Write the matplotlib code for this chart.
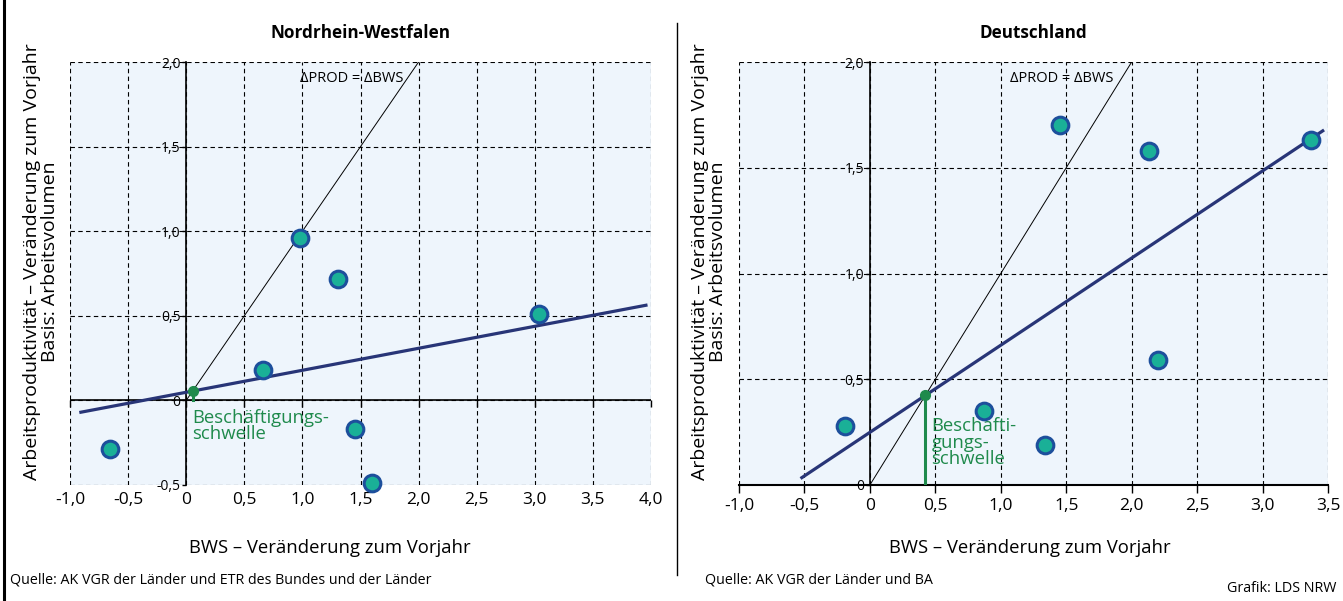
import numpy as np
import matplotlib
matplotlib.use("Agg")
import matplotlib.pyplot as plt

plt.rcParams['font.family'] = ['Open Sans', 'DejaVu Sans']

# Nordrhein-Westfalen: BWS change (x) vs productivity change (y)
nrw_x = [-0.66, 0.66, 0.98, 1.31, 1.45, 1.60, 3.04]
nrw_y = [-0.29, 0.18, 0.96, 0.72, -0.17, -0.49, 0.51]
nrw_trend = (0.130, 0.048)      # slope, intercept
nrw_trend_range = (-0.92, 3.97)
nrw_xticks = [-1.0, -0.5, 0, 0.5, 1.0, 1.5, 2.0, 2.5, 3.0, 3.5, 4.0]
nrw_yticks = [-0.5, 0, 0.5, 1.0, 1.5, 2.0]

# Deutschland
de_x = [-0.19, 0.87, 1.34, 1.45, 2.13, 2.20, 3.37]
de_y = [0.28, 0.35, 0.19, 1.70, 1.58, 0.59, 1.63]
de_trend = (0.412, 0.249)
de_trend_range = (-0.53, 3.47)
de_xticks = [-1.0, -0.5, 0, 0.5, 1.0, 1.5, 2.0, 2.5, 3.0, 3.5]
de_yticks = [0, 0.5, 1.0, 1.5, 2.0]

BG = '#eef5fc'
TEAL = '#1ab097'
BLUE = '#1d4f9c'
NAVY = '#283577'
GREEN = '#1f8a4c'


def fmt(v):
    if v == 0:
        return '0'
    return ('%.1f' % v).replace('.', ',')


def draw(ax, xs, ys, trend, trange, xticks, yticks, title, thr_text, thr_text_pos,
         diag_text_pos, zero_inside):
    ax.set_facecolor(BG)
    ax.set_xlim(xticks[0], xticks[-1])
    ax.set_ylim(yticks[0], yticks[-1])
    ax.set_xticks(xticks)
    ax.set_yticks(yticks)
    ax.set_xticklabels([fmt(v) for v in xticks], fontsize=12.5)
    ax.set_yticklabels([fmt(v) for v in yticks], fontsize=12.5)
    ax.grid(True, color='black', linestyle=(0, (4, 3)), linewidth=0.8)
    ax.set_axisbelow(True)

    for s in ['top', 'right']:
        ax.spines[s].set_visible(False)
    ax.spines['left'].set_position(('data', 0))
    ax.spines['left'].set_linewidth(1.2)
    ax.tick_params(axis='y', length=3, pad=1, width=1)

    if zero_inside:
        ax.spines['bottom'].set_visible(False)
        ax.tick_params(axis='x', length=0, pad=5)
        ax.axhline(0, color='black', lw=1.2, zorder=1.8)
        frac = (0 - yticks[0]) / (yticks[-1] - yticks[0])
        sec = ax.secondary_xaxis(frac)
        sec.set_xticks(xticks)
        sec.set_xticklabels([])
        sec.tick_params(length=5, width=1, direction='out')
        sec.spines['bottom'].set_visible(False)
    else:
        ax.spines['bottom'].set_linewidth(1.5)
        ax.tick_params(axis='x', length=6, width=1, pad=3)

    # 45-degree line
    ax.plot([0, 2.0], [0, 2.0], color='black', lw=0.7, zorder=2)
    ax.text(diag_text_pos[0], diag_text_pos[1], '\u0394PROD = \u0394BWS', fontsize=10.5,
            ha='right', va='center', zorder=3)

    # trend line
    tx = np.array(trange)
    ax.plot(tx, trend[0] * tx + trend[1], color=NAVY, lw=2.3, zorder=3, solid_capstyle='butt')

    # employment threshold
    thr = trend[1] / (1 - trend[0])
    ax.plot([thr, thr], [0, thr], color=GREEN, lw=2.2, zorder=4)
    ax.plot([thr], [thr], 'o', color=GREEN, ms=7, zorder=5)
    ax.text(thr_text_pos[0], thr_text_pos[1], thr_text, color=GREEN, fontsize=13.3,
            ha='left', va='top', linespacing=0.88, zorder=5)

    ax.plot(xs, ys, 'o', ms=12, mfc=TEAL, mec=BLUE, mew=2.2, zorder=6, clip_on=False)

    ax.set_title(title, fontsize=12.3, fontweight='bold', pad=17)


fig = plt.figure(figsize=(13.43, 6.01), dpi=100)

ax1 = fig.add_axes([70 / 1343, 1 - 485 / 601, 581 / 1343, 423 / 601])
draw(ax1, nrw_x, nrw_y, nrw_trend, nrw_trend_range, nrw_xticks, nrw_yticks,
     'Nordrhein-Westfalen', 'Beschäftigungs-\nschwelle', (0.05, -0.05),
     (1.87, 1.90), True)

ax2 = fig.add_axes([739 / 1343, 1 - 485 / 601, 589 / 1343, 423 / 601])
draw(ax2, de_x, de_y, de_trend, de_trend_range, de_xticks, de_yticks,
     'Deutschland', 'Beschäfti-\ngungs-\nschwelle', (0.47, 0.32),
     (1.86, 1.92), False)

ylab = 'Arbeitsproduktivität – Veränderung zum Vorjahr\nBasis: Arbeitsvolumen'
fig.text(41 / 1343, 1 - 262 / 601, ylab, rotation=90, ha='center', va='center',
         fontsize=14, multialignment='center', linespacing=0.95)
fig.text(709 / 1343, 1 - 262 / 601, ylab, rotation=90, ha='center', va='center',
         fontsize=14, multialignment='center', linespacing=0.95)

fig.text(330 / 1343, 1 - 548 / 601, 'BWS – Veränderung zum Vorjahr', ha='center',
         va='center', fontsize=13.3)
fig.text(1030 / 1343, 1 - 548 / 601, 'BWS – Veränderung zum Vorjahr', ha='center',
         va='center', fontsize=13.3)

fig.text(10 / 1343, 1 - 580 / 601, 'Quelle: AK VGR der Länder und ETR des Bundes und der Länder',
         ha='left', va='center', fontsize=10.3)
fig.text(705 / 1343, 1 - 580 / 601, 'Quelle: AK VGR der Länder und BA',
         ha='left', va='center', fontsize=10.3)
fig.text(1336 / 1343, 1 - 589 / 601, 'Grafik: LDS NRW', ha='right', va='center', fontsize=10.3)

# frame lines
fig.add_artist(plt.Line2D([4 / 1343, 4 / 1343], [0, 1], color='black', lw=2.2))
fig.add_artist(plt.Line2D([677 / 1343, 677 / 1343], [1 - 575 / 601, 1 - 23 / 601],
                          color='black', lw=1.0))

fig.savefig('out.png', dpi=100)
